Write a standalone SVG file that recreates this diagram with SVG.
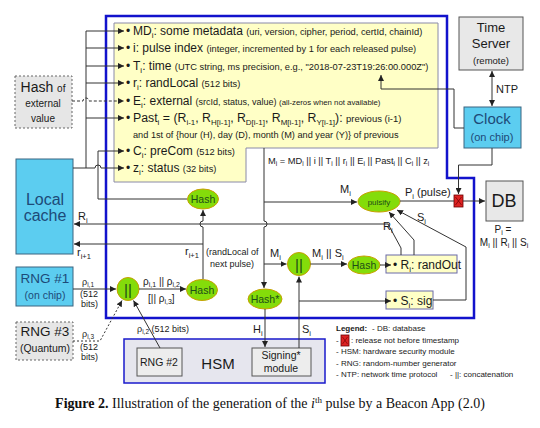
<svg xmlns="http://www.w3.org/2000/svg" width="540" height="428" viewBox="0 0 540 428">
<defs>
<marker id="a" viewBox="0 0 10 10" refX="10" refY="5" markerWidth="6" markerHeight="6" orient="auto-start-reverse"><path d="M0,0 L10,5 L0,10 z" fill="#222"/></marker>
<style>
.t{font-family:"Liberation Sans",Arial,sans-serif;fill:#1a1a1a}
.ln{fill:none;stroke:#333;stroke-width:1}
.ar{marker-end:url(#a)}
.dash{stroke-dasharray:3,2}
.dot{stroke-dasharray:2,2}
.g{fill:#84dc0a;stroke:#c8a000;stroke-width:1}
.gt{font-family:"Liberation Sans",Arial,sans-serif;fill:#1d4d18;text-anchor:middle}
.cy{fill:#5ccdf0;stroke:#3a6580;stroke-width:1}
.gr{fill:#e8e8e8;stroke:#555;stroke-width:1}
.ct{text-anchor:middle}
.bt{fill:#1d4a78}
.s{font-size:9.3px}
.red{fill:#dd2222;stroke:#6a0000;stroke-width:0.8}
.lg{font-size:8px}
</style>
</defs>
<rect width="540" height="428" fill="#fff"/>

<g id="frame">
<path d="M106,16 H447 V178 H474 V318 H106 Z" fill="none" stroke="#1212cc" stroke-width="2.5"/>
</g>

<g id="fields">
<path d="M114,23 H438 V148 H246 V182 H114 Z" fill="#ffffc6" stroke="#8a8aa8" stroke-width="1"/>
<text class="t" font-size="12"><tspan x="126" y="35">•</tspan><tspan x="126" y="52">•</tspan><tspan x="126" y="70">•</tspan><tspan x="126" y="87">•</tspan><tspan x="126" y="105">•</tspan><tspan x="126" y="122">•</tspan><tspan x="126" y="155">•</tspan><tspan x="126" y="172">•</tspan></text>
<text class="t" x="133" y="35" font-size="12">MD<tspan font-size="8" dy="3">i</tspan><tspan dy="-3">: some metadata </tspan><tspan class="s">(uri, version, cipher, period, certId, chainId)</tspan></text>
<text class="t" x="133" y="52" font-size="12">i: pulse index <tspan class="s">(integer, incremented by 1 for each released pulse)</tspan></text>
<text class="t" x="133" y="70" font-size="12">T<tspan font-size="8" dy="3">i</tspan><tspan dy="-3">: time </tspan><tspan class="s">(UTC string, ms precision, e.g., "2018-07-23T19:26:00.000Z")</tspan></text>
<text class="t" x="133" y="87" font-size="12">r<tspan font-size="8" dy="3">i</tspan><tspan dy="-3">: randLocal </tspan><tspan class="s">(512 bits)</tspan></text>
<text class="t" x="133" y="105" font-size="12">E<tspan font-size="8" dy="3">i</tspan><tspan dy="-3">: external </tspan><tspan font-size="9">(srcId, status, value) </tspan><tspan font-size="7.8">(all-zeros when not available)</tspan></text>
<text class="t" x="133" y="122" font-size="12.3">Past<tspan font-size="8" dy="3">i</tspan><tspan dy="-3"> = (R</tspan><tspan font-size="8" dy="3">i-1</tspan><tspan dy="-3">, R</tspan><tspan font-size="8" dy="3">H[i-1]</tspan><tspan dy="-3">, R</tspan><tspan font-size="8" dy="3">D[i-1]</tspan><tspan dy="-3">, R</tspan><tspan font-size="8" dy="3">M[i-1]</tspan><tspan dy="-3">, R</tspan><tspan font-size="8" dy="3">Y[i-1]</tspan><tspan dy="-3">): </tspan><tspan font-size="9.5">previous (i-1)</tspan></text>
<text class="t" x="133" y="138" font-size="9.2">and 1st of {hour (H), day (D), month (M) and year (Y)} of previous</text>
<text class="t" x="133" y="155" font-size="12">C<tspan font-size="8" dy="3">i</tspan><tspan dy="-3">: preCom </tspan><tspan class="s">(512 bits)</tspan></text>
<text class="t" x="133" y="172" font-size="12">z<tspan font-size="8" dy="3">i</tspan><tspan dy="-3">: status </tspan><tspan class="s">(32 bits)</tspan></text>
</g>

<g id="hash-external">
<rect x="15" y="76" width="57" height="52" fill="#e6e6e6" stroke="#666" stroke-dasharray="2,2"/>
<text class="t ct" x="43" y="92" font-size="14">Hash <tspan font-size="10">of</tspan></text>
<text class="t ct" x="43" y="107" font-size="10">external</text>
<text class="t ct" x="43" y="122" font-size="10">value</text>
</g>

<g id="local-cache">
<rect class="cy" x="16" y="159" width="57" height="95"/>
<text class="t ct bt" x="45" y="205" font-size="16">Local</text>
<text class="t ct bt" x="45" y="221" font-size="16">cache</text>
</g>

<g id="rng1">
<rect class="cy" x="16" y="267" width="57" height="39"/>
<text class="t ct bt" x="45" y="283" font-size="13.5">RNG #1</text>
<text class="t ct bt" x="45" y="299" font-size="10.5">(on chip)</text>
</g>

<g id="rng3">
<rect x="16" y="322" width="57" height="38" fill="#e6e6e6" stroke="#666" stroke-dasharray="2,2"/>
<text class="t ct" x="45" y="336" font-size="13.5">RNG #3</text>
<text class="t ct" x="45" y="352" font-size="10.5">(Quantum)</text>
</g>

<g id="time-server">
<rect class="gr" x="459" y="17" width="64" height="53"/>
<text class="t ct" x="491" y="32" font-size="13">Time</text>
<text class="t ct" x="491" y="48" font-size="13">Server</text>
<text class="t ct" x="491" y="64" font-size="9.5">(remote)</text>
</g>

<g id="clock">
<rect class="cy" x="464" y="107" width="57" height="41"/>
<text class="t ct bt" x="492" y="124" font-size="15">Clock</text>
<text class="t ct bt" x="492" y="141" font-size="11">(on chip)</text>
</g>

<g id="db">
<rect class="gr" x="486" y="181" width="37" height="40"/>
<text class="t ct" x="504" y="207" font-size="18">DB</text>
<text class="t ct" x="503" y="233" font-size="10">P<tspan font-size="7" dy="2">i</tspan><tspan dy="-2"> =</tspan></text>
<text class="t ct" x="504" y="246" font-size="10">M<tspan font-size="7" dy="2">i</tspan><tspan dy="-2"> || R</tspan><tspan font-size="7" dy="2">i</tspan><tspan dy="-2"> || S</tspan><tspan font-size="7" dy="2">i</tspan></text>
</g>

<g id="release-gate">
<rect class="red" x="454" y="195" width="9" height="12"/>
<path d="M455.5,197 L461.5,205 M461.5,197 L455.5,205" stroke="#6a0000" stroke-width="0.7"/>
</g>

<g id="hsm">
<rect x="124" y="339" width="201" height="44" fill="#e6e6ee" stroke="#1a1acc" stroke-width="1.5"/>
<text class="t ct" x="218" y="369" font-size="15">HSM</text>
</g>

<g id="rng2">
<rect x="137" y="348" width="45" height="28" fill="#ededed" stroke="#555"/>
<text class="t ct" x="159" y="366" font-size="10.5">RNG #2</text>
</g>

<g id="signing">
<rect x="252" y="348" width="59" height="28" fill="#ededed" stroke="#555"/>
<text class="t ct" x="281" y="359" font-size="10.5">Signing*</text>
<text class="t ct" x="281" y="372" font-size="10.5">module</text>
</g>

<g id="concat1">
<ellipse class="g" cx="128" cy="289" rx="11" ry="11.5"/>
<text class="gt" x="128" y="295" font-size="15">||</text>
</g>
<g id="hash-rand">
<ellipse class="g" cx="202" cy="290" rx="15.5" ry="10.5"/>
<text class="gt" x="202" y="294" font-size="10.5">Hash</text>
</g>
<g id="hash-precom">
<ellipse class="g" cx="203" cy="199" rx="15.5" ry="10"/>
<text class="gt" x="203" y="203" font-size="10.5">Hash</text>
</g>
<g id="hash-star">
<ellipse class="g" cx="265" cy="299" rx="17" ry="10"/>
<text class="gt" x="265" y="303" font-size="10.5">Hash*</text>
</g>
<g id="concat2">
<ellipse class="g" cx="299" cy="264" rx="11.5" ry="11.5"/>
<text class="gt" x="299" y="270" font-size="15">||</text>
</g>
<g id="hash-out">
<ellipse class="g" cx="364" cy="265" rx="16" ry="9"/>
<text class="gt" x="364" y="269" font-size="10.5">Hash</text>
</g>
<g id="pulsify">
<ellipse class="g" cx="379" cy="201.5" rx="21" ry="10.5"/>
<text class="gt" x="379" y="204.5" font-size="8">pulsify</text>
</g>

<g id="randout">
<rect x="386" y="255" width="71" height="18" fill="#ffffc6" stroke="#6a6aa8"/>
<text class="t" x="393" y="269" font-size="12">• R<tspan font-size="8" dy="3">i</tspan><tspan dy="-3">: randOut</tspan></text>
</g>
<g id="sig">
<rect x="386" y="291" width="47" height="18" fill="#ffffc6" stroke="#6a6aa8"/>
<text class="t" x="393" y="305" font-size="12">• S<tspan font-size="8" dy="3">i</tspan><tspan dy="-3">: sig</tspan></text>
</g>

<g id="connectors">
<path class="ln" d="M86,31 V168"/>
<path class="ln ar" d="M86,31 H124"/>
<path class="ln ar" d="M86,48 H124"/>
<path class="ln ar" d="M86,66 H124"/>
<path class="ln ar" d="M86,83 H124"/>
<path class="ln ar" d="M86,118 H124"/>
<path class="ln ar dash" d="M72,101 H83 a3,3 0 0 1 6,0 H124"/>
<path class="ln ar" d="M73,168 H95 a3,3 0 0 1 6,0 H124"/>
<path class="ln ar" d="M187,199 H98 V151 H124"/>
<path class="ln ar" d="M401,255 V248 L388,224 H74"/>
<path class="ln ar" d="M203,279 V227 a3,3 0 0 1 0,-6 V210"/>
<path class="ln ar" d="M203,244 H74"/>
<path class="ln ar" d="M264,148 V221 a3,3 0 0 1 0,6 V288"/>
<path class="ln ar" d="M264,202 H357"/>
<path class="ln ar" d="M264,264 H286.5"/>
<path class="ln ar" d="M265,309 V347"/>
<path class="ln ar" d="M299,348 V276.5"/>
<path class="ln ar" d="M299,301 H391"/>
<path class="ln ar" d="M310.5,264 H347"/>
<path class="ln ar" d="M380,265 H391"/>
<path class="ln ar" d="M414,255 V240 L389,212"/>
<path class="ln ar" d="M433,300 H466 V247 L397,210"/>
<path class="ln" d="M400,201 H454"/>
<path class="ln ar" d="M463,201 H485"/>
<path class="ln ar" d="M492,148 V165 H458.5 V194"/>
<path class="ln ar" d="M492,71 V106" marker-start="url(#a)"/>
<path class="ln ar" d="M464,128 H454 V89 H381 V75"/>
<path class="ln ar" d="M73,289 H116"/>
<path class="ln ar dot" d="M73,341 H100 L122,300.5"/>
<path class="ln ar" d="M160,348 L133.5,300.5"/>
<path class="ln ar" d="M139,289 H186"/>
</g>

<g id="labels">
<text class="t" x="268" y="164" font-size="9.3">M<tspan font-size="6.5" dy="2">i</tspan><tspan dy="-2"> = MD</tspan><tspan font-size="6.5" dy="2">i</tspan><tspan dy="-2"> || i || T</tspan><tspan font-size="6.5" dy="2">i</tspan><tspan dy="-2"> || r</tspan><tspan font-size="6.5" dy="2">i</tspan><tspan dy="-2"> || E</tspan><tspan font-size="6.5" dy="2">i</tspan><tspan dy="-2"> || Past</tspan><tspan font-size="6.5" dy="2">i</tspan><tspan dy="-2"> || C</tspan><tspan font-size="6.5" dy="2">i</tspan><tspan dy="-2"> || z</tspan><tspan font-size="6.5" dy="2">i</tspan></text>
<text class="t" x="340" y="193" font-size="11">M<tspan font-size="7.5" dy="2.5">i</tspan></text>
<text class="t" x="405" y="196" font-size="11">P<tspan font-size="7.5" dy="2.5">i</tspan><tspan dy="-2.5"> (pulse)</tspan></text>
<text class="t" x="383" y="230" font-size="11">R<tspan font-size="7.5" dy="2.5">i</tspan></text>
<text class="t" x="417" y="221" font-size="11">S<tspan font-size="7.5" dy="2.5">i</tspan></text>
<text class="t" x="496" y="93" font-size="11">NTP</text>
<text class="t" x="78" y="220" font-size="11">R<tspan font-size="7.5" dy="2.5">i</tspan></text>
<text class="t" x="77" y="256" font-size="11">r<tspan font-size="7.5" dy="2.5">i+1</tspan></text>
<text class="t" x="185" y="255" font-size="11">r<tspan font-size="7.5" dy="2.5">i+1</tspan></text>
<text class="t" x="206" y="255" font-size="9">(randLocal of</text>
<text class="t" x="210" y="267" font-size="9">next pulse)</text>
<text class="t" x="270" y="257" font-size="11">M<tspan font-size="7.5" dy="2.5">i</tspan></text>
<text class="t" x="312" y="257" font-size="11">M<tspan font-size="7.5" dy="2.5">i</tspan><tspan dy="-2.5"> || S</tspan><tspan font-size="7.5" dy="2.5">i</tspan></text>
<text class="t" x="253" y="333" font-size="11">H<tspan font-size="7.5" dy="2.5">i</tspan></text>
<text class="t" x="302" y="333" font-size="11">S<tspan font-size="7.5" dy="2.5">i</tspan></text>
<text class="t" x="82" y="285" font-size="9">ρ<tspan font-size="6.5" dy="2">i,1</tspan></text>
<text class="t" x="80" y="297" font-size="9">(512</text>
<text class="t" x="81" y="307" font-size="9">bits)</text>
<text class="t" x="82" y="337" font-size="9">ρ<tspan font-size="6.5" dy="2">i,3</tspan></text>
<text class="t" x="80" y="350" font-size="9">(512</text>
<text class="t" x="81" y="360" font-size="9">bits)</text>
<text class="t" x="137" y="332" font-size="9">ρ<tspan font-size="6.5" dy="2">i,2</tspan><tspan dy="-2"> (512 bits)</tspan></text>
<text class="t" x="143" y="285" font-size="10">ρ<tspan font-size="7" dy="2">i,1</tspan><tspan dy="-2"> || ρ</tspan><tspan font-size="7" dy="2">i,2</tspan></text>
<text class="t" x="148" y="302" font-size="10">[|| ρ<tspan font-size="7" dy="2">i,3</tspan><tspan dy="-2">]</tspan></text>
</g>

<g id="legend">
<text class="t lg" x="336" y="331"><tspan font-weight="bold">Legend:</tspan><tspan x="372">- DB: database</tspan></text>
<text class="t lg" x="336" y="343">-</text>
<rect class="red" x="341" y="335" width="8" height="11"/>
<path d="M342.5,337 L347.5,344 M347.5,337 L342.5,344" stroke="#6a0000" stroke-width="0.6"/>
<text class="t lg" x="351" y="343">: release not before timestamp</text>
<text class="t lg" x="336" y="354">- HSM: hardware security module</text>
<text class="t lg" x="336" y="366">- RNG: random-number generator</text>
<text class="t lg" x="336" y="377">- NTP: network time protocol</text>
<text class="t lg" x="450" y="377">- ||: concatenation</text>
</g>

<g id="caption">
<text x="270" y="408" text-anchor="middle" font-family="'Liberation Serif','Times New Roman',serif" font-size="14" fill="#111"><tspan font-weight="bold">Figure 2.</tspan> Illustration of the generation of the <tspan font-style="italic">i</tspan><tspan font-size="9" dy="-5">th</tspan><tspan dy="5"> pulse by a Beacon App (2.0)</tspan></text>
</g>
</svg>
